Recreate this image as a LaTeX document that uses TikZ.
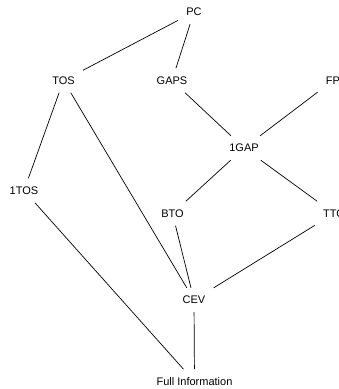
\documentclass[tikz,border=0pt]{standalone}
\usepackage{fontspec}
\setmainfont{Liberation Sans}
\usepackage{tikz}

\begin{document}
\begin{tikzpicture}[x=1pt, y=-1pt, line width=0.7pt,
        lbl/.style={inner sep=8pt, font=\fontsize{11}{13}\selectfont}]
            \useasboundingbox (0,0) rectangle (339,389);
            \node[lbl] (PC) at (194,12) {PC};
            \node[lbl] (TOS) at (63.5,80.5) {TOS};
            \node[lbl] (GAPS) at (172,80.5) {GAPS};
            \node[lbl] (FP) at (333,80.5) {FP};
            \node[lbl] (1GAP) at (244,148) {1GAP};
            \node[lbl] (1TOS) at (24,190.5) {1TOS};
            \node[lbl] (BTO) at (172.5,213.5) {BTO};
            \node[lbl] (TTO) at (334,213.5) {TTO};
            \node[lbl] (CEV) at (194,300) {CEV};
            \node[lbl] (FI) at (194.5,381.5) {Full Information};
            \draw (PC) -- (TOS);
            \draw (PC) -- (GAPS);
            \draw (TOS) -- (1TOS);
            \draw (TOS) -- (CEV);
            \draw (GAPS) -- (1GAP);
            \draw (FP) -- (1GAP);
            \draw (1GAP) -- (BTO);
            \draw (1GAP) -- (TTO);
            \draw (1TOS) -- (FI);
            \draw (BTO) -- (CEV);
            \draw (TTO) -- (CEV);
            \draw (CEV) -- (FI);
        \end{tikzpicture}
\end{document}
